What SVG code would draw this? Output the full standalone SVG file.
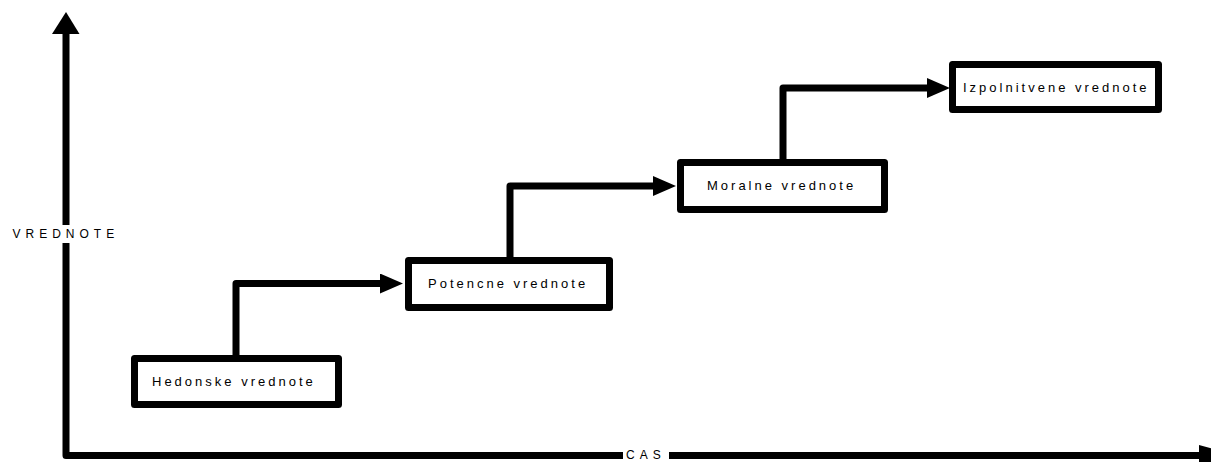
<svg xmlns="http://www.w3.org/2000/svg" width="1211" height="462" viewBox="0 0 1211 462">
<style>
.box{fill:#fff;stroke:#000;stroke-width:7;stroke-linejoin:round}
.con{fill:none;stroke:#000;stroke-width:7;stroke-linejoin:round}
.lbl{font-family:"Liberation Sans",Arial,sans-serif;font-size:13px;letter-spacing:3px;fill:#000}
.ax{font-family:"Liberation Sans",Arial,sans-serif;font-size:12px;letter-spacing:5px;fill:#000}
</style>
<defs>
<marker id="ah" markerUnits="userSpaceOnUse" markerWidth="23" markerHeight="20" refX="0" refY="10" orient="auto" viewBox="0 0 23 20">
<path d="M0,0 L23,10 L0,20 Z" fill="#000"/>
</marker>
</defs>
<g id="axes">
<path class="con" d="M66,34 V225 M66,243 V455.5 H623 M669,455.5 H1199"/>
<polygon points="52,34 79.5,34 66,12" fill="#000"/>
<polygon points="1199,445 1237,455.5 1199,466" fill="#000"/>
<text class="ax" x="12.5" y="238.3">VREDNOTE</text>
<text class="ax" x="626" y="458.5">CAS</text>
</g>
<g id="connectors">
<path class="con" d="M236,355 V283.5 H380" marker-end="url(#ah)"/>
<path class="con" d="M510,257 V186 H653" marker-end="url(#ah)"/>
<path class="con" d="M783,159 V88 H927" marker-end="url(#ah)"/>
</g>
<g id="hedonske">
<rect class="box" x="134.5" y="358.5" width="204" height="46"/>
<text class="lbl" x="152" y="386">Hedonske vrednote</text>
</g>
<g id="potencne">
<rect class="box" x="408.5" y="260.5" width="201" height="47"/>
<text class="lbl" x="428" y="288">Potencne vrednote</text>
</g>
<g id="moralne">
<rect class="box" x="680.5" y="162.5" width="204" height="47"/>
<text class="lbl" x="707" y="190">Moralne vrednote</text>
</g>
<g id="izpolnitvene">
<rect class="box" x="952.5" y="64.5" width="206" height="45"/>
<text class="lbl" x="963" y="92">Izpolnitvene vrednote</text>
</g>
</svg>
